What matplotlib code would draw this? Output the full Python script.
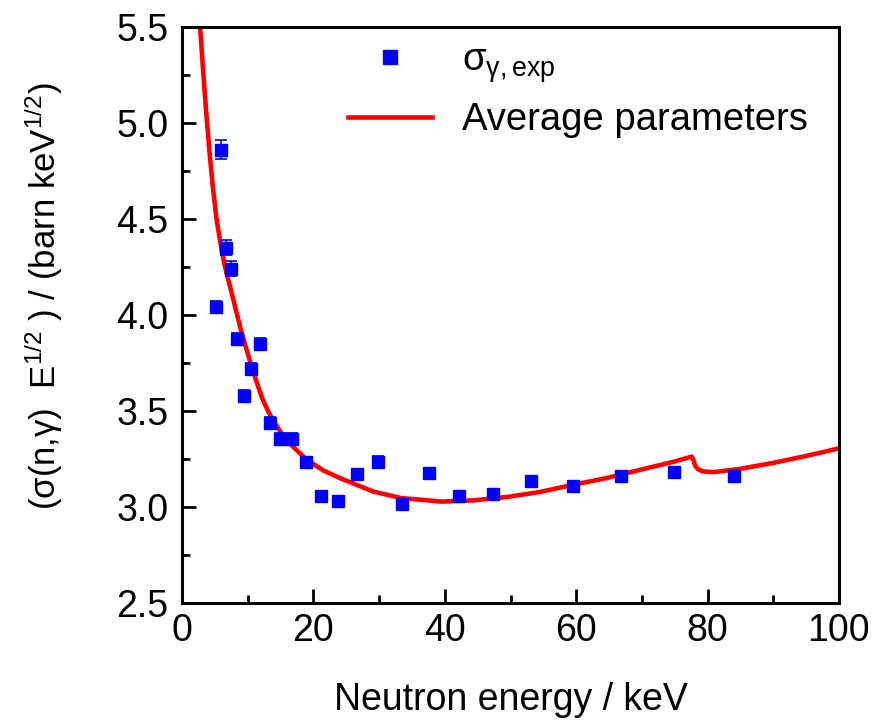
import matplotlib
matplotlib.use("Agg")
import matplotlib.pyplot as plt
from matplotlib.lines import Line2D

energy_exp = [5.17, 5.94, 6.70, 7.46, 8.37, 9.44, 10.50, 11.87, 13.39, 14.92,
              16.74, 18.87, 21.16, 23.74, 26.64, 29.83, 33.49, 37.60, 42.20,
              47.30, 53.10, 59.50, 66.80, 74.90, 84.00]
sigma_exp = [4.04, 4.86, 4.35, 4.24, 3.875, 3.578, 3.719, 3.849, 3.437, 3.354,
             3.354, 3.234, 3.057, 3.031, 3.172, 3.234, 3.016, 3.177, 3.057,
             3.068, 3.135, 3.109, 3.161, 3.182, 3.161]
sigma_err = [0.03, 0.05, 0.04, 0.04, 0.03, 0.03, 0.03, 0.03, 0.03, 0.03,
             0.03, 0.025, 0.025, 0.025, 0.025, 0.03, 0.025, 0.025, 0.02,
             0.02, 0.025, 0.02, 0.025, 0.025, 0.025]

# calculation with average parameters
energy_calc = [2.74, 3.02, 3.37, 3.75, 4.19, 4.67, 5.23, 5.98, 6.54, 7.2,
               7.81, 8.45, 9.08, 9.85, 10.6, 11.4, 12.2, 13.0, 13.85, 15.7,
               17.3, 19.0, 21.5, 24.05, 29.1, 33.4, 39.5, 44.3, 49.5, 54.5,
               59.5, 64.7, 69.7, 74.7, 77.6, 77.85, 78.1, 78.6, 79.3, 80.9,
               84.9, 89.95, 95.1, 100.0]
sigma_calc = [5.50, 5.36, 5.19, 5.02, 4.84, 4.67, 4.50, 4.344, 4.25, 4.16,
              4.078, 3.99, 3.905, 3.815, 3.73, 3.645, 3.565, 3.505, 3.45, 3.354,
              3.30, 3.245, 3.19, 3.15, 3.08, 3.046, 3.028, 3.034, 3.052, 3.078,
              3.115, 3.151, 3.193, 3.234, 3.262, 3.245, 3.215, 3.195, 3.185, 3.181,
              3.198, 3.229, 3.266, 3.305]

x_ticks = [0, 20, 40, 60, 80, 100]
y_ticks = [2.5, 3.0, 3.5, 4.0, 4.5, 5.0, 5.5]

plt.rcParams['font.family'] = ['Liberation Sans', 'DejaVu Sans']
plt.rcParams['mathtext.fontset'] = 'custom'
plt.rcParams['mathtext.rm'] = 'Liberation Sans'
plt.rcParams['mathtext.it'] = 'Liberation Sans:italic'

fig = plt.figure(figsize=(8.84, 7.23), dpi=100)
ax = fig.add_axes([0.206, 0.166, 0.743, 0.797])

ax.plot(energy_calc, sigma_calc, color='#ff0000', lw=3.3, zorder=2,
        solid_joinstyle='round')
ax.errorbar(energy_exp, sigma_exp, yerr=sigma_err, fmt='s', color='#0000ff',
            ms=9, elinewidth=1.2, capsize=4.3, capthick=1.2, zorder=3)

ax.set_xlim(0, 100)
ax.set_ylim(2.5, 5.5)
ax.set_xticks(x_ticks)
ax.set_yticks(y_ticks)
ax.set_xticks([10, 30, 50, 70, 90], minor=True)
ax.set_yticks([2.75, 3.25, 3.75, 4.25, 4.75, 5.25], minor=True)
ax.set_yticklabels([f'{v:.1f}' for v in y_ticks])

ax.tick_params(which='both', direction='in', width=2, labelsize=27,
               top=False, right=False)
ax.tick_params(which='major', length=10)
ax.tick_params(which='minor', length=6)
ax.tick_params(axis='x', which='major', pad=7)
ax.tick_params(axis='y', which='major', pad=10)
for sp in ax.spines.values():
    sp.set_linewidth(2.2)

ax.set_xlabel('Neutron energy / keV', fontsize=27, labelpad=24)
ax.set_ylabel('(σ(n,γ)  E$^{1/2}$ ) / (barn keV$^{1/2}$)', fontsize=25)
ax.yaxis.set_label_coords(-0.178, 0.533)

handles = [Line2D([], [], ls='none', marker='s', color='#0000ff', ms=10),
           Line2D([], [], color='#ff0000', lw=3.3)]
labels = [r'σ$_{\mathrm{γ,exp}}$', 'Average parameters']
ax.legend(handles, labels, loc='upper left', bbox_to_anchor=(0.2, 1.032),
          frameon=False, fontsize=27.5, handlelength=2.2, handletextpad=0.8,
          labelspacing=0.45)

fig.savefig('out.png', dpi=100)
